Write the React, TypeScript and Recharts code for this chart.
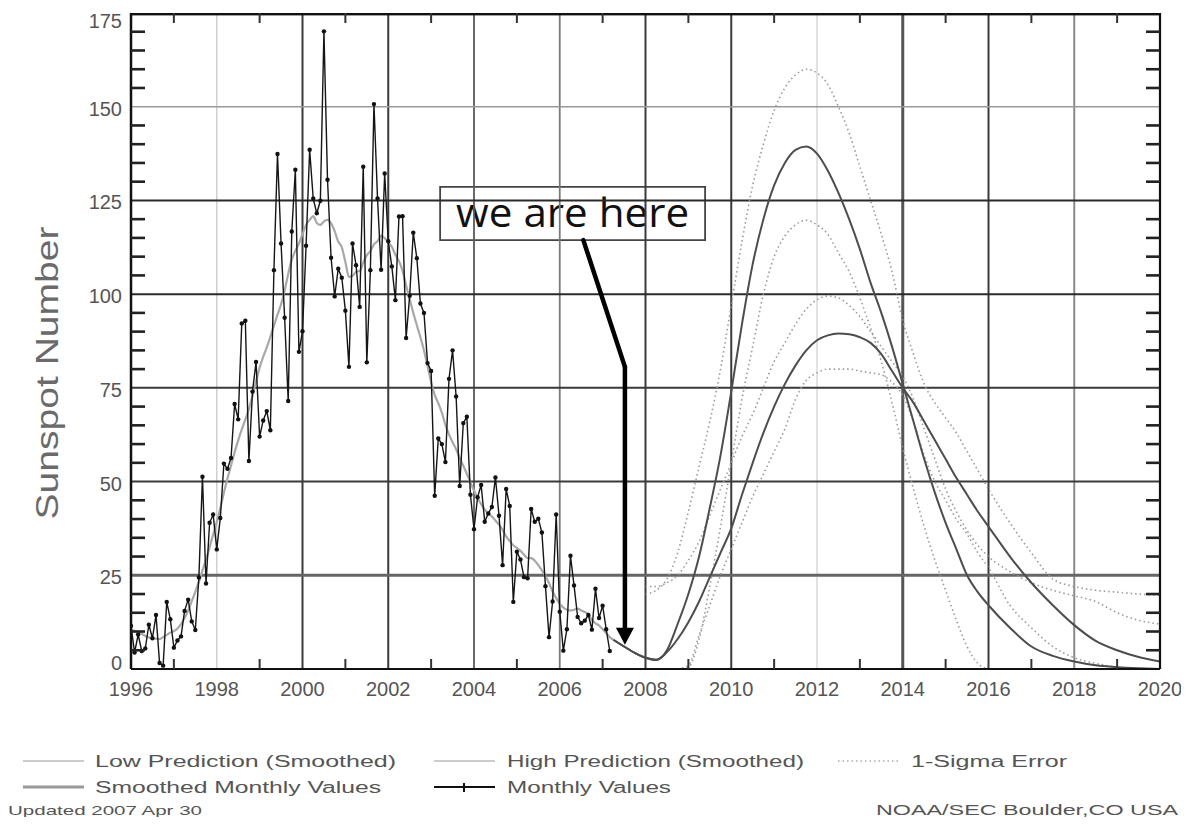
import React from "react";
import { LineChart, Line, XAxis, YAxis, ReferenceLine, ReferenceArea } from "recharts";

// monthly sunspot numbers, Jan 1996 .. Mar 2007
const monthlyValues = [
  11.5, 4.4, 9.2, 4.8, 5.5, 11.8, 8.2, 14.4, 1.6, 0.9, 17.9, 13.3,
  5.7, 7.6, 8.7, 15.5, 18.5, 12.7, 10.4, 24.4, 51.3, 22.8, 39.0, 41.2,
  31.9, 40.3, 54.8, 53.4, 56.3, 70.7, 66.6, 92.2, 92.9, 55.5, 74.0, 81.9,
  62.0, 66.3, 68.8, 63.7, 106.4, 137.4, 113.5, 93.7, 71.5, 116.7, 133.2, 84.6,
  90.1, 112.9, 138.5, 125.5, 121.6, 124.9, 170.1, 130.5, 109.7, 99.4, 106.8, 104.4,
  95.6, 80.6, 113.5, 107.7, 96.6, 134.0, 81.8, 106.4, 150.7, 125.5, 106.5, 132.2,
  114.1, 107.4, 98.4, 120.7, 120.8, 88.3, 99.6, 116.4, 109.6, 97.5, 95.0, 81.6,
  79.5, 46.2, 61.5, 60.0, 55.2, 77.4, 85.0, 72.7, 48.8, 65.6, 67.3, 46.5,
  37.3, 45.8, 49.1, 39.3, 41.5, 43.2, 51.1, 40.9, 27.7, 48.0, 43.5, 17.9,
  31.3, 29.2, 24.5, 24.2, 42.7, 39.3, 40.1, 36.4, 22.1, 8.5, 18.0, 41.2,
  15.3, 4.9, 10.6, 30.2, 22.3, 13.9, 12.2, 12.9, 14.4, 10.5, 21.4, 13.6,
  16.9, 10.6, 4.8,
];

// smoothed monthly values, Jan 1996 .. Apr 2007
const smoothedValues = [
  10.4, 10.2, 9.9, 9.4, 8.8, 8.4, 8.2, 8.1, 8.0, 8.5, 9.1, 9.7,
  10.1, 10.8, 12.0, 13.6, 15.6, 18.1, 20.6, 23.3, 26.3, 29.2, 32.5, 35.9,
  39.2, 42.9, 47.0, 50.8, 54.3, 57.8, 61.0, 63.9, 66.5, 69.4, 72.8, 76.7,
  80.4, 83.3, 85.8, 88.6, 91.6, 94.5, 97.3, 101.0, 105.4, 109.2, 111.6, 113.5,
  116.0, 118.5, 119.8, 120.8, 119.0, 118.5, 119.4, 119.8, 118.9, 116.8, 114.0, 112.5,
  108.6, 104.6, 104.9, 106.0, 106.2, 108.4, 110.4, 111.5, 113.3, 114.1, 115.6, 114.9,
  113.9, 112.6, 110.5, 108.8, 106.2, 102.3, 98.7, 95.0, 91.7, 88.5, 85.0, 80.8,
  76.5, 73.1, 70.9, 68.4, 65.1, 62.6, 60.5, 58.6, 56.3, 54.2, 52.1, 49.8,
  47.6, 45.6, 44.0, 42.6, 41.5, 40.7, 39.6, 38.5, 37.1, 35.4, 34.1, 33.0,
  32.3, 31.5, 30.5, 29.6, 29.6, 28.9, 27.7, 26.3, 24.8, 22.9, 20.7, 18.9,
  17.4, 16.4, 15.8, 15.6, 15.8, 16.1, 15.6, 15.2, 14.7, 13.0, 12.2, 11.6,
  10.6, 9.6, 8.5, 7.8,
];

// prediction grid (years)
const predYears = [
  2007.25, 2007.5, 2007.75, 2008, 2008.25, 2008.5, 2008.75, 2009, 2009.25, 2009.5, 2009.75,
  2010, 2010.25, 2010.5, 2010.75, 2011, 2011.25, 2011.5, 2011.75, 2012, 2012.25, 2012.5, 2012.75,
  2013, 2013.25, 2013.5, 2013.75, 2014, 2014.25, 2014.5, 2014.75, 2015, 2015.25, 2015.5, 2015.75,
  2016, 2016.5, 2017, 2017.5, 2018, 2018.5, 2019, 2019.5, 2020,
];
const highPred = [
  7.8, 6, 4.3, 3, 2.5, 5, 12, 20, 30, 43, 57,
  74, 92, 108, 120, 129, 135, 138.5, 139.4, 137.5, 133, 127, 120,
  112, 103, 95, 86, 76, 66, 56, 47, 39, 32, 25, 20.5,
  17, 11, 6, 3.5, 2, 1, 0.5, 0.2, 0,
];
const lowPred = [
  7.8, 6, 4.3, 3, 2.4, 4.5, 8, 12.5, 18, 24.5, 31,
  37.5, 46.5, 55, 63, 70, 76, 81, 85, 87.7, 89, 89.5, 89.3,
  88.5, 87, 84, 79.5, 75, 71, 66, 61, 56, 51, 46.5, 42,
  38, 30, 23, 17, 11.7, 7.5, 5, 3.2, 2,
];
const highUpper = [
  null, null, null, 20, 21, 24, 31, 42, 54, 66, 80,
  97, 114, 129, 140, 149, 155, 158.5, 160, 159, 156, 150, 143,
  134, 125, 116, 106, 93, 84, 76, 71, 67, 63, 58, 53,
  48, 39, 31, 24, 22, 21, 20.5, 20, 19.7,
];
const highLower = [
  null, null, null, null, null, null, 0, 0.5, 8, 22, 38,
  55, 72, 86, 100, 110, 115.5, 118.5, 119.7, 118.5, 116, 111, 106,
  99, 91, 82, 71, 59, 48, 38, 29, 21, 13, 6, 1.5,
  0, null, null, null, null, null, null, null, null,
];
const lowUpper = [
  null, null, null, 22, 22, 23, 25, 29, 34, 41, 48,
  55, 62, 68, 75, 82, 87, 92, 96, 98.5, 99.5, 99, 97,
  94, 90, 86, 82, 78, 72, 64, 56, 48, 42, 37, 33,
  30, 26, 23, 21, 19.5, 18, 15, 13, 12,
];
const lowLower = [
  null, null, null, null, null, null, 0, 1, 9, 17, 25,
  32, 39, 46, 52, 58, 64, 72, 77, 79, 80, 80, 80,
  79.5, 79, 78.5, 76.5, 73, 66, 57, 50, 45, 40, 36, 31,
  27, 17, 11, 6, 3, 1.5, 0.5, 0, 0,
];

const yearTicks = [1996, 1998, 2000, 2002, 2004, 2006, 2008, 2010, 2012, 2014, 2016, 2018, 2020];
const oddYears = [1997, 1999, 2001, 2003, 2005, 2007, 2009, 2011, 2013, 2015, 2017, 2019];
const valueTicks = [0, 25, 50, 75, 100, 125, 150, 175];
const minorValues = [5, 10, 15, 20, 30, 35, 40, 45, 55, 60, 65, 70, 80, 85, 90, 95, 105, 110, 115, 120, 130, 135, 140, 145, 155, 160, 165, 170];
const gridYears = [1998, 2000, 2002, 2004, 2006, 2008, 2010, 2012, 2014, 2016, 2018];
const gridValues = [25, 50, 75, 100, 125, 150];
const allValueTicks = [...valueTicks, ...minorValues].sort((a, b) => a - b);

const obsRows = monthlyValues.map((v, i) => ({ t: 1996 + i / 12, v }));
const smoothRows = smoothedValues.map((v, i) => ({ t: 1996 + i / 12, v }));
const predRows = predYears.map((t, i) => ({
  t,
  high: highPred[i],
  low: lowPred[i],
  highUp: highUpper[i],
  highDn: highLower[i],
  lowUp: lowUpper[i],
  lowDn: lowLower[i],
}));

const W = 1173;
const H = 700;
const MARGIN = { top: 5, right: 21, left: 63, bottom: 9 };
const Y_AXIS_W = 60;
const X_AXIS_H = 30;
const XD: [number, number] = [1996, 2020];
const YD: [number, number] = [0, 175];
const FONT = "'Liberation Sans', Arial, sans-serif";

// plot box, used only for the inward axis ticks and frame
const PL = MARGIN.left + Y_AXIS_W;
const PR = W - MARGIN.right;
const PT = MARGIN.top;
const PB = H - MARGIN.bottom - X_AXIS_H;
const sx = (yr: number) => PL + ((yr - XD[0]) / (XD[1] - XD[0])) * (PR - PL);
const sy = (v: number) => PB - ((v - YD[0]) / (YD[1] - YD[0])) * (PB - PT);

const xGridStyle: Record<number, [string, number]> = {
  1998: ["#d0d0d0", 1.5], 2000: ["#3a3a3a", 2], 2002: ["#3a3a3a", 2], 2004: ["#5a5a5a", 1.8],
  2006: ["#7a7a7a", 1.8], 2008: ["#3a3a3a", 2], 2010: ["#3a3a3a", 2], 2012: ["#d8d8d8", 1.5],
  2014: ["#555", 3], 2016: ["#3a3a3a", 2], 2018: ["#8a8a8a", 2],
};
const yGridStyle: Record<number, [string, number]> = {
  25: ["#666", 3], 50: ["#3a3a3a", 2], 75: ["#3a3a3a", 2], 100: ["#2a2a2a", 2], 125: ["#2a2a2a", 2], 150: ["#999", 1.5],
};

const ArrowBody = (p: any) => (
  <line x1={p.x1} y1={p.y1} x2={p.x2} y2={p.y2} stroke="#000" strokeWidth={4.5} strokeLinecap="round" />
);
const ArrowTip = (p: any) => (
  <g>
    <line x1={p.x1} y1={p.y1} x2={p.x2} y2={p.y2 - 14} stroke="#000" strokeWidth={4.5} strokeLinecap="round" />
    <polygon points={`${p.x2 - 9},${p.y2 - 17} ${p.x2 + 9},${p.y2 - 17} ${p.x2},${p.y2}`} fill="#000" />
  </g>
);

const BoxText = (p: any) => {
  const vb = p.viewBox || {};
  return (
    <text x={vb.x + vb.width / 2} y={vb.y + vb.height / 2 + 13} textAnchor="middle" fontSize={41}
      fontFamily="'Open Sans', sans-serif" fill="#111" textLength={233} lengthAdjust="spacingAndGlyphs">
      we are here
    </text>
  );
};

// labels on multiples of 25, short inward marks on the other 5-steps
const YTick = (p: any) => {
  const v = p.payload.value;
  if (v % 25 !== 0) {
    const ax = p.x + 9; // tickSize 6 + tickMargin 3
    return <line x1={ax} y1={p.y} x2={ax + 14} y2={p.y} stroke="#222" strokeWidth={2.6} />;
  }
  const dy = v === 175 ? 8 : v === 0 ? -6 : 2;
  return (
    <text x={p.x} y={p.y + dy} textAnchor="end" dominantBaseline="central" fontSize={20}
      fontFamily={FONT} fill="#555">{v}</text>
  );
};

const legendText = { fontFamily: FONT, fill: "#555" };

export default function App() {
  return (
    <div style={{ position: "relative", width: W, height: 809 }}>
      <LineChart width={W} height={H} margin={MARGIN}>
        <XAxis dataKey="t" type="number" domain={XD} allowDataOverflow ticks={yearTicks} interval={0}
          tickLine={false} axisLine={{ stroke: "#111", strokeWidth: 2 }} height={X_AXIS_H} tickMargin={7}
          tick={{ fontSize: 20, fill: "#555", fontFamily: FONT }} />
        <YAxis type="number" domain={YD} allowDataOverflow ticks={allValueTicks} interval={0} width={Y_AXIS_W}
          tickLine={false} axisLine={{ stroke: "#111", strokeWidth: 2.5 }} tickMargin={3}
          tick={<YTick />} />

        {gridYears.map((yr) => (
          <ReferenceLine key={"gx" + yr} x={yr} stroke={xGridStyle[yr][0]} strokeWidth={xGridStyle[yr][1]} />
        ))}
        {gridValues.map((v) => (
          <ReferenceLine key={"gy" + v} y={v} stroke={yGridStyle[v][0]} strokeWidth={yGridStyle[v][1]} />
        ))}

        <Line data={predRows} dataKey="highUp" type="monotone" stroke="#9a9a9a" strokeWidth={1.6}
          strokeDasharray="1.5 3" dot={false} isAnimationActive={false} />
        <Line data={predRows} dataKey="highDn" type="monotone" stroke="#9a9a9a" strokeWidth={1.6}
          strokeDasharray="1.5 3" dot={false} isAnimationActive={false} />
        <Line data={predRows} dataKey="lowUp" type="monotone" stroke="#9a9a9a" strokeWidth={1.6}
          strokeDasharray="1.5 3" dot={false} isAnimationActive={false} />
        <Line data={predRows} dataKey="lowDn" type="monotone" stroke="#9a9a9a" strokeWidth={1.6}
          strokeDasharray="1.5 3" dot={false} isAnimationActive={false} />
        <Line data={predRows} dataKey="high" type="monotone" stroke="#4d4d4d" strokeWidth={2}
          dot={false} isAnimationActive={false} />
        <Line data={predRows} dataKey="low" type="monotone" stroke="#4d4d4d" strokeWidth={2}
          dot={false} isAnimationActive={false} />
        <Line data={smoothRows} dataKey="v" type="monotone" stroke="#a8a8a8" strokeWidth={2.2}
          dot={false} isAnimationActive={false} />
        <Line data={obsRows} dataKey="v" type="linear" stroke="#151515" strokeWidth={1.4}
          dot={{ r: 2.2, fill: "#111", stroke: "none" }} isAnimationActive={false} />

        <ReferenceArea x1={2003.21} x2={2009.39} y1={114.4} y2={128.6} fill="#fff" fillOpacity={1}
          stroke="#444" strokeWidth={1.8} ifOverflow="visible" label={<BoxText />} />
        <ReferenceLine segment={[{ x: 2006.55, y: 114.4 }, { x: 2007.52, y: 80.6 }]} shape={ArrowBody} ifOverflow="visible" />
        <ReferenceLine segment={[{ x: 2007.52, y: 80.6 }, { x: 2007.52, y: 6.5 }]} shape={ArrowTip} ifOverflow="visible" />
      </LineChart>

      <svg width={W} height={817} style={{ position: "absolute", left: 0, top: 0, pointerEvents: "none", zIndex: 2 }}>
        {/* frame top/right and inward minor ticks */}
        <rect x={PL} y={PT} width={PR - PL} height={2.4} fill="#111" />
        <line x1={PR} y1={PT} x2={PR} y2={PB} stroke="#111" strokeWidth={2.2} />
        {minorValues.map((v) => (
          <line key={"tr" + v} x1={PR - 14} y1={sy(v)} x2={PR} y2={sy(v)} stroke="#222" strokeWidth={2.6} />
        ))}
        {oddYears.map((yr) => (
          <g key={"tx" + yr}>
            <line x1={sx(yr)} y1={PB} x2={sx(yr)} y2={PB - 10} stroke="#333" strokeWidth={2} />
            <line x1={sx(yr)} y1={PT} x2={sx(yr)} y2={PT + 10} stroke="#333" strokeWidth={2} />
          </g>
        ))}

        <text transform="translate(50,365) rotate(-90)" textAnchor="middle" fontSize={32} fontFamily={FONT}
          fill="#6a6a6a" textLength={293} lengthAdjust="spacingAndGlyphs">Sunspot Number</text>

        <line x1={15} y1={753} x2={76} y2={753} stroke="#bbb" strokeWidth={1.5} />
        <text x={87} y={759} fontSize={16} {...legendText} textLength={301} lengthAdjust="spacingAndGlyphs">Low Prediction (Smoothed)</text>
        <line x1={426} y1={753} x2={487} y2={753} stroke="#bbb" strokeWidth={1.5} />
        <text x={499} y={759} fontSize={16} {...legendText} textLength={297} lengthAdjust="spacingAndGlyphs">High Prediction (Smoothed)</text>
        <line x1={830} y1={753} x2={891} y2={753} stroke="#aaa" strokeWidth={1.5} strokeDasharray="1.5 3" />
        <text x={903} y={759} fontSize={16} {...legendText} textLength={156} lengthAdjust="spacingAndGlyphs">1-Sigma Error</text>

        <line x1={15} y1={779} x2={76} y2={779} stroke="#999" strokeWidth={3} />
        <text x={87} y={785} fontSize={16} {...legendText} textLength={286} lengthAdjust="spacingAndGlyphs">Smoothed Monthly Values</text>
        <line x1={426} y1={779} x2={487} y2={779} stroke="#111" strokeWidth={2} />
        <line x1={456} y1={775} x2={456} y2={784} stroke="#111" strokeWidth={2} />
        <text x={499} y={785} fontSize={16} {...legendText} textLength={164} lengthAdjust="spacingAndGlyphs">Monthly Values</text>

        <text x={0} y={807} fontSize={13} {...legendText} textLength={194} lengthAdjust="spacingAndGlyphs">Updated 2007 Apr 30</text>
        <text x={868} y={807} fontSize={14} {...legendText} textLength={302} lengthAdjust="spacingAndGlyphs">NOAA/SEC Boulder,CO USA</text>
      </svg>
    </div>
  );
}
